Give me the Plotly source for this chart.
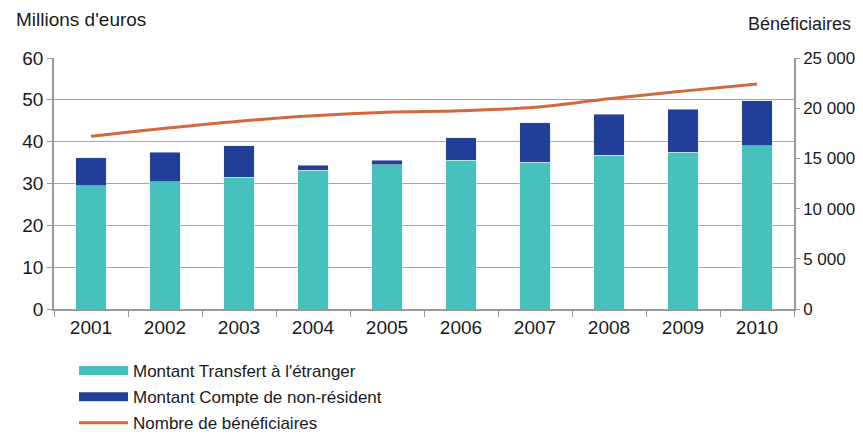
import plotly.graph_objects as go

annees = ['2001', '2002', '2003', '2004', '2005', '2006', '2007', '2008', '2009', '2010']
transfert = [29.5, 30.4, 31.5, 33.2, 34.5, 35.6, 35.1, 36.8, 37.5, 39.0]
non_resident = [6.6, 7.1, 7.5, 1.2, 1.1, 5.3, 9.4, 9.8, 10.3, 10.8]
beneficiaires = [17200, 18000, 18700, 19250, 19600, 19750, 20100, 20950, 21700, 22400]

ticks_droite = [0, 5000, 10000, 15000, 20000, 25000]
labels_droite = ['0', '5 000', '10 000', '15 000', '20 000', '25 000']

police = 'Liberation Sans, Arial, sans-serif'
c_transfert = '#47C1BE'
c_compte = '#22409A'
c_benef = '#D2693C'

fig = go.Figure()
fig.add_trace(go.Bar(name="Montant Transfert à l'étranger", x=annees, y=transfert,
                     marker_color=c_transfert, width=0.41, showlegend=False,
                     legendgroup='t'))
fig.add_trace(go.Bar(name='Montant Compte de non-résident', x=annees, y=non_resident,
                     marker_color=c_compte, width=0.41, showlegend=False,
                     legendgroup='c'))
fig.add_trace(go.Scatter(name='Nombre de bénéficiaires', x=annees, y=beneficiaires, yaxis='y2',
                         mode='lines', line=dict(color=c_benef, width=3, shape='spline'),
                         showlegend=False, legendgroup='b'))

# entrées de légende en rectangles larges, comme dans l'original
fig.add_trace(go.Scatter(name="Montant Transfert à l'étranger", x=[None], y=[None], mode='lines',
                         line=dict(color=c_transfert, width=9), legendgroup='t'))
fig.add_trace(go.Scatter(name='Montant Compte de non-résident', x=[None], y=[None], mode='lines',
                         line=dict(color=c_compte, width=9), legendgroup='c'))
fig.add_trace(go.Scatter(name='Nombre de bénéficiaires', x=[None], y=[None], mode='lines',
                         line=dict(color=c_benef, width=3), legendgroup='b'))

# la page a une marge de 8 px : la figure est décalée d'autant
fig.update_layout(
    barmode='stack',
    width=847, height=424,
    margin=dict(l=46, r=61, t=50, b=123, autoexpand=False),
    plot_bgcolor='white', paper_bgcolor='white',
    font=dict(family=police, size=19, color='#1a1a1a'),
    showlegend=True,
    legend=dict(orientation='v', x=(74 - 54) / 740, xanchor='left',
                y=-(353 - 309) / 251, yanchor='top',
                font=dict(size=17), tracegroupgap=1, traceorder='grouped',
                itemwidth=49),
    xaxis=dict(showline=True, linecolor='#999999', linewidth=1.5,
               ticks='outside', tickson='boundaries', ticklen=6, tickcolor='#999999',
               showgrid=False),
    yaxis=dict(range=[0, 60], dtick=10, showline=True, linecolor='#999999', linewidth=1.5,
               ticks='outside', ticklen=5, tickcolor='#999999',
               gridcolor='#A6A6A6', gridwidth=1.2, zeroline=False),
    yaxis2=dict(range=[0, 25000], overlaying='y', side='right',
                tickvals=ticks_droite, ticktext=labels_droite, tickfont=dict(size=17),
                showline=True, linecolor='#999999', linewidth=1.5,
                ticks='outside', ticklen=4, tickcolor='#999999',
                showgrid=False, zeroline=False),
    annotations=[
        dict(text="Millions d'euros", x=(14 - 54) / 740, y=1 + (58 - 20) / 251,
             xref='paper', yref='paper', xanchor='left', yanchor='middle',
             showarrow=False, font=dict(size=19)),
        dict(text='Bénéficiaires', x=(853 - 54) / 740, y=1 + (58 - 24) / 251,
             xref='paper', yref='paper', xanchor='right', yanchor='middle',
             showarrow=False, font=dict(size=18)),
    ],
)

fig.write_html('out.html')
